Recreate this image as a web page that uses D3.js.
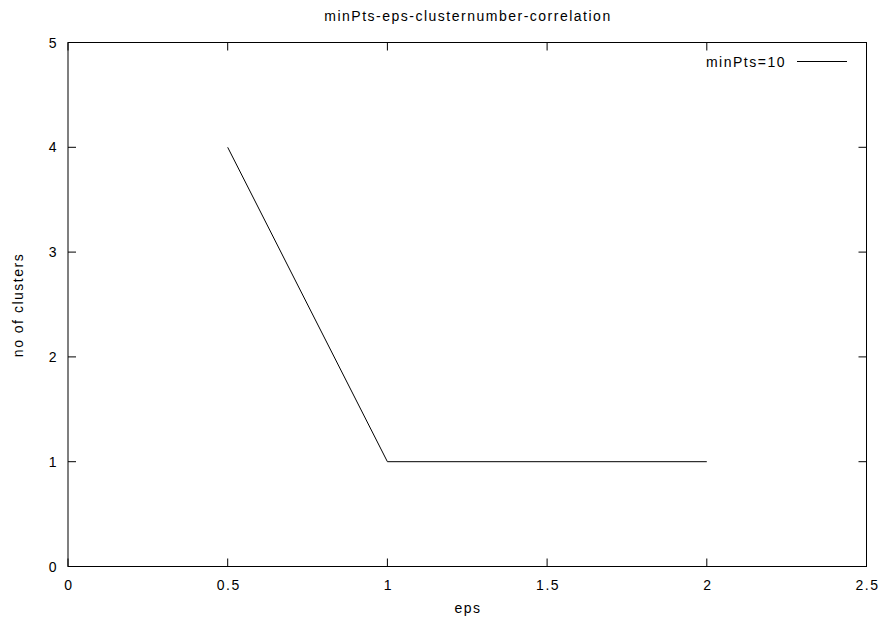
<!DOCTYPE html>
<html><head><meta charset="utf-8">
<script src="https://cdn.jsdelivr.net/npm/d3@7"></script>
<style>body{margin:0;background:#fff}svg{display:block}text{font-family:"Liberation Sans",Arial,sans-serif;fill:#000;letter-spacing:1.5px}</style>
</head><body>
<script>
const epsValues = [0.5, 1, 2];
const clusterCounts = [4, 1, 1];
const xTicks = [0, 0.5, 1, 1.5, 2, 2.5];
const yTicks = [0, 1, 2, 3, 4, 5];
const seriesName = "minPts=10";
const titleText = "minPts-eps-clusternumber-correlation";

const W = 886, H = 625;
const L = 68, R = 866.5, T = 42.5, B = 566.5;
const svg = d3.select("body").append("svg").attr("width", W).attr("height", H);
const x = d3.scaleLinear().domain([0, 2.5]).range([L, R]);
const y = d3.scaleLinear().domain([0, 5]).range([B, T]);
const tl = 8;

const g = svg.append("g");
g.selectAll(".xt").data(xTicks).join("path")
  .attr("d", d => `M${x(d)},${B}v${-tl}M${x(d)},${T}v${tl}`)
  .attr("stroke", "#000").attr("stroke-width", 1).attr("fill", "none");
g.selectAll(".yt").data(yTicks).join("path")
  .attr("d", d => `M${L},${y(d)}h${tl}M${R},${y(d)}h${-tl}`)
  .attr("stroke", "#000").attr("stroke-width", 1).attr("fill", "none");
g.append("rect").attr("x", L).attr("y", T).attr("width", R - L).attr("height", B - T)
  .attr("fill", "none").attr("stroke", "#000").attr("stroke-width", 1);

g.selectAll(".xl").data(xTicks).join("text")
  .attr("x", d => x(d) + 1).attr("y", 590).attr("text-anchor", "middle")
  .attr("font-size", 14).text(d => d3.format("")(d));
g.selectAll(".yl").data(yTicks).join("text")
  .attr("x", 58).attr("y", d => y(d) + 5).attr("text-anchor", "end")
  .attr("font-size", 14).text(d => d);

svg.append("text").attr("x", 468).attr("y", 21).attr("text-anchor", "middle")
  .attr("font-size", 14).text(titleText);
svg.append("text").attr("x", 468).attr("y", 613).attr("text-anchor", "middle")
  .attr("font-size", 14).text("eps");
svg.append("text").attr("transform", "translate(23,305) rotate(-90)").attr("text-anchor", "middle")
  .attr("font-size", 14).text("no of clusters");

const line = d3.line().x((d, i) => x(epsValues[i])).y(d => y(d));
svg.append("path").datum(clusterCounts).attr("d", line)
  .attr("fill", "none").attr("stroke", "#000").attr("stroke-width", 1);

svg.append("text").attr("x", 786).attr("y", 67).attr("text-anchor", "end")
  .attr("font-size", 14).text(seriesName);
svg.append("line").attr("x1", 797).attr("x2", 847).attr("y1", 61.5).attr("y2", 61.5)
  .attr("stroke", "#000").attr("stroke-width", 1);
</script>
</body></html>
